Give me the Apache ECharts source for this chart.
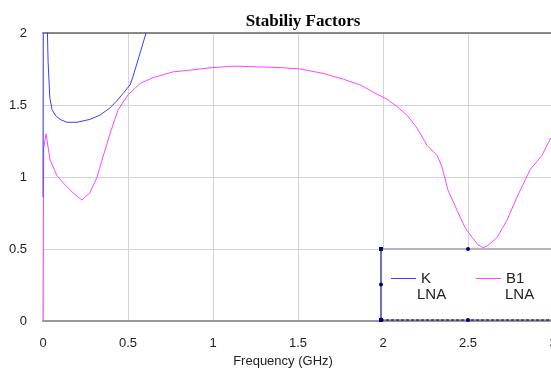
<!DOCTYPE html>
<html><head><meta charset="utf-8">
<script src="https://cdn.jsdelivr.net/npm/echarts@6/dist/echarts.min.js"></script>
<style>html,body{margin:0;padding:0;background:#fff}#c{width:551px;height:373px}</style>
</head><body><div id="c"></div>
<script>
var xTicks = [0, 0.5, 1, 1.5, 2, 2.5, 3];
var yTicks = [0, 0.5, 1, 1.5, 2];
var seriesNames = ['K', 'B1'];
var seriesSub = ['LNA', 'LNA'];
var freqK = [0, 0.002, 0.02, 0.03, 0.04, 0.053, 0.071, 0.1, 0.141, 0.2, 0.276, 0.335, 0.394, 0.435, 0.471, 0.512, 0.53, 0.571, 0.606, 0.64];
var valK  = [0.86, 2.6, 2.3, 1.8, 1.55, 1.47, 1.43, 1.40, 1.38, 1.38, 1.40, 1.43, 1.48, 1.53, 1.58, 1.64, 1.70, 1.86, 2.0, 2.2];
var freqB1 = [0, 0.004, 0.018, 0.041, 0.082, 0.118, 0.176, 0.229, 0.276, 0.318, 0.353, 0.394, 0.441, 0.5, 0.571, 0.647, 0.765, 0.924, 1.0, 1.129, 1.394, 1.512, 1.647, 1.765, 1.865, 1.941, 2.024, 2.082, 2.141, 2.2, 2.259, 2.318, 2.347, 2.382, 2.435, 2.482, 2.524, 2.559, 2.588, 2.612, 2.671, 2.729, 2.788, 2.865, 2.935, 2.982, 3.0];
var valB1  = [0, 1.20, 1.30, 1.12, 1.01, 0.96, 0.89, 0.84, 0.89, 1.00, 1.14, 1.30, 1.465, 1.57, 1.65, 1.69, 1.73, 1.75, 1.76, 1.77, 1.76, 1.75, 1.72, 1.68, 1.64, 1.59, 1.54, 1.49, 1.43, 1.34, 1.22, 1.15, 1.07, 0.91, 0.77, 0.65, 0.58, 0.53, 0.51, 0.52, 0.58, 0.70, 0.86, 1.05, 1.15, 1.26, 1.29];

function pairs(xs, ys){ return xs.map(function(x,i){ return [x, ys[i]]; }); }

var colors = ['#3c3cff', '#ff44ff'];
var chart = echarts.init(document.getElementById('c'), null, {renderer:'canvas'});
var textFont = 'Liberation Sans, Arial, sans-serif';
chart.setOption({
  animation: false,
  color: colors,
  title: {
    text: 'Stabiliy Factors', left: 298, top: 8, textAlign: 'center',
    textStyle: {fontFamily: 'Liberation Serif, Times New Roman, serif', fontWeight: 'bold', fontSize: 17, color: '#000'}
  },
  grid: {left: 43, right: -2, top: 33, bottom: 52, containLabel: false, outerBoundsMode: 'none'},
  xAxis: [{
    type: 'value', min: xTicks[0], max: xTicks[xTicks.length-1], interval: 0.5,
    name: 'Frequency (GHz)', nameLocation: 'middle', nameGap: 34,
    nameTextStyle: {fontFamily: textFont, fontSize: 13, color: '#222', padding: [0, 30, 0, 0]},
    axisLine: {show: true, lineStyle: {color: '#999', width: 2}},
    axisTick: {show: false},
    axisLabel: {margin: 16, fontFamily: textFont, fontSize: 13, color: '#222',
      formatter: function(v){ return String(v); }},
    splitLine: {show: true, lineStyle: {color: '#d4d4d4', width: 1}}
  }, {
    type: 'value', position: 'top', min: 0, max: 3,
    axisLine: {show: true, lineStyle: {color: '#666', width: 1.5}},
    axisTick: {show: false}, axisLabel: {show: false}, splitLine: {show: false}
  }],
  yAxis: {
    type: 'value', min: yTicks[0], max: yTicks[yTicks.length-1], interval: 0.5,
    axisLine: {show: false}, axisTick: {show: false},
    axisLabel: {margin: 16, fontFamily: textFont, fontSize: 13, color: '#222'},
    splitLine: {show: true, lineStyle: {color: '#d4d4d4', width: 1}}
  },
  legend: {
    left: 386, top: 266, orient: 'horizontal', itemWidth: 25, itemHeight: 14, itemGap: 45,
    icon: 'path://M0,6.5 L25,6.5 L25,7.5 L0,7.5 Z',
    textStyle: {fontFamily: textFont, fontSize: 15, color: '#222'},
    data: seriesNames
  },
  graphic: [
    {type: 'rect', shape: {x: 381, y: 249, width: 200, height: 71}, style: {fill: '#fff', stroke: '#666688', lineWidth: 1}, z: 1},
    {type: 'line', shape: {x1: 381, y1: 249, x2: 381, y2: 320}, style: {stroke: '#333399', lineWidth: 1}, z: 2},
    {type: 'line', shape: {x1: 381, y1: 320, x2: 560, y2: 320}, style: {stroke: '#000066', lineWidth: 1, lineDash: [3, 2]}, z: 2},
    {type: 'rect', shape: {x: 379, y: 247, width: 4, height: 4}, style: {fill: '#000080'}, z: 3},
    {type: 'rect', shape: {x: 379, y: 318, width: 4, height: 4}, style: {fill: '#000080'}, z: 3},
    {type: 'circle', shape: {cx: 381, cy: 284.5, r: 2}, style: {fill: '#000080'}, z: 3},
    {type: 'circle', shape: {cx: 468, cy: 249, r: 2}, style: {fill: '#000080'}, z: 3},
    {type: 'circle', shape: {cx: 468, cy: 320, r: 2}, style: {fill: '#000080'}, z: 3},
    {type: 'text', left: 417, top: 287, style: {text: seriesSub[0], font: '15px ' + textFont, fill: '#222'}, z: 3},
    {type: 'text', left: 505, top: 287, style: {text: seriesSub[1], font: '15px ' + textFont, fill: '#222'}, z: 3}
  ],
  series: [
    {name: seriesNames[0], type: 'line', symbol: 'none', data: pairs(freqK, valK), lineStyle: {width: 1, color: colors[0]}, z: 3},
    {name: seriesNames[1], type: 'line', symbol: 'none', data: pairs(freqB1, valB1), lineStyle: {width: 1, color: colors[1]}, z: 2}
  ]
});
</script></body></html>
